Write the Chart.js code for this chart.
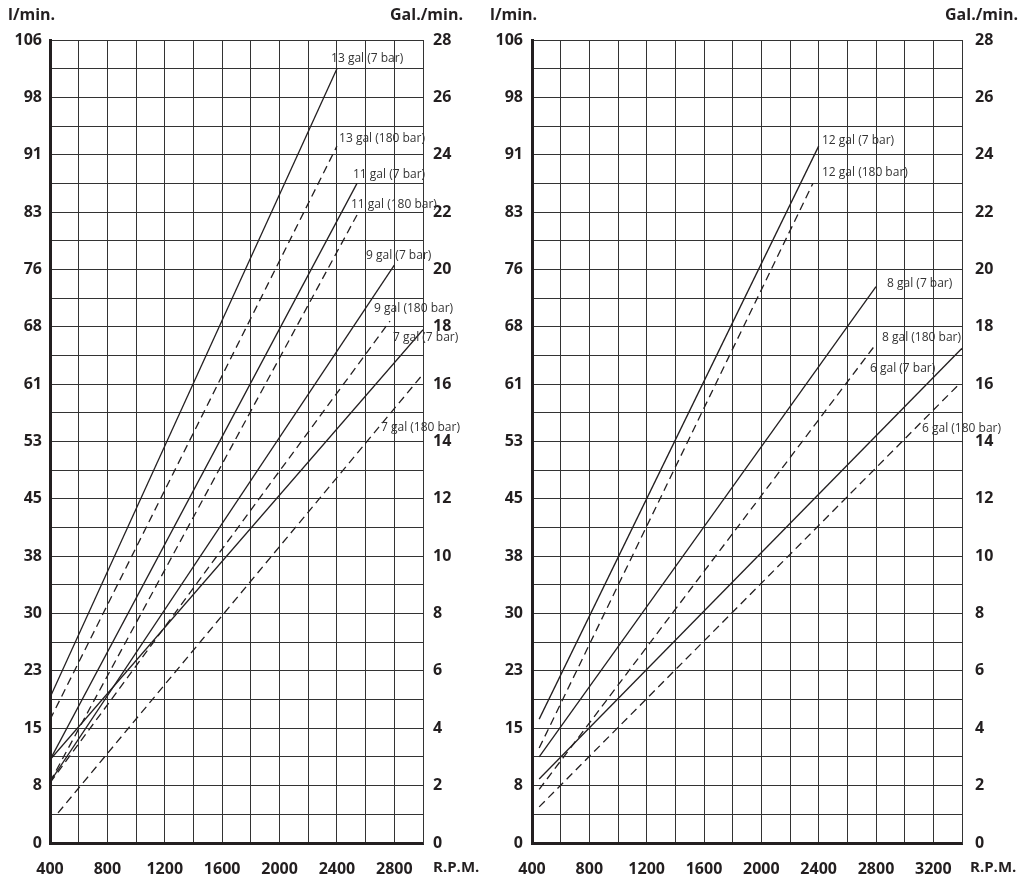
<!DOCTYPE html>
<html><head><meta charset="utf-8">
<script src="https://cdn.jsdelivr.net/npm/chart.js@4.4.1/dist/chart.umd.min.js"></script>
<style>
html,body{margin:0;padding:0;background:#fff;width:1024px;height:879px;overflow:hidden}
#wl{position:absolute;left:0;top:0;width:490px;height:879px}
#wr{position:absolute;left:480px;top:0;width:544px;height:879px}
</style></head><body>
<div id="wl"><canvas id="cl"></canvas></div>
<div id="wr"><canvas id="cr"></canvas></div>
<script>
// ---- tick labels ----
const LITRE_TICKS = ['0','8','15','23','30','38','45','53','61','68','76','83','91','98','106'];
const GAL_TICKS = ['0','2','4','6','8','10','12','14','16','18','20','22','24','26','28'];
const RPM_TICKS_LEFT = ['400','800','1200','1600','2000','2400','2800'];
const RPM_TICKS_RIGHT = ['400','800','1200','1600','2000','2400','2800','3200'];

// ---- left panel series (rpm -> Gal./min.) ----
const LEFT_NAMES = ['13 gal (7 bar)','13 gal (180 bar)','11 gal (7 bar)','11 gal (180 bar)','9 gal (7 bar)','9 gal (180 bar)','7 gal (7 bar)','7 gal (180 bar)'];
const LEFT_START_RPM = [400, 400, 400, 400, 400, 400, 400, 456];
const LEFT_START_GPM = [5.07, 4.3, 2.9, 2.13, 2.13, 2.1, 2.9, 1.05];
const LEFT_END_RPM = [2400, 2400, 2540, 2540, 2800, 2770, 3000, 3000];
const LEFT_END_GPM = [27.0, 24.3, 23.0, 21.9, 20.15, 18.2, 17.9, 16.35];
const LEFT_LABEL_AT = [[2359,27.34],[2415,24.55],[2512,23.3],[2498,22.25],[2603,20.47],[2659,18.62],[2791,17.64],[2707,14.47]];

// ---- right panel series ----
const RIGHT_NAMES = ['12 gal (7 bar)','12 gal (180 bar)','8 gal (7 bar)','8 gal (180 bar)','6 gal (7 bar)','6 gal (180 bar)'];
const RIGHT_START_RPM = [450, 450, 450, 450, 450, 450];
const RIGHT_START_GPM = [4.32, 3.31, 3.0, 1.87, 2.23, 1.26];
const RIGHT_END_RPM = [2400, 2360, 2800, 2800, 3400, 3380];
const RIGHT_END_GPM = [24.3, 23.0, 19.4, 17.4, 17.25, 16.0];
const RIGHT_LABEL_AT = [[2423,24.51],[2423,23.36],[2877,19.49],[2842,17.61],[2758,16.53],[3121,14.44]];

const INK = '#231f20';
const FONT = '"Open Sans", "Noto Sans", sans-serif';

const textPlugin = {
  id: 'texts',
  afterDraw(chart, args, o) {
    const ctx = chart.ctx, a = chart.chartArea;
    const xs = chart.scales.x, ys = chart.scales.y;
    ctx.save();
    ctx.fillStyle = INK;
    ctx.font = 'bold 16px ' + FONT;
    ctx.textBaseline = 'middle';
    ctx.textAlign = 'left'; ctx.fillText('l/min.', o.leftTitleX, 15);
    ctx.textAlign = 'right'; ctx.fillText('Gal./min.', o.rightTitleX, 15);
    ctx.font = 'bold 15px ' + FONT;
    ctx.textAlign = 'left'; ctx.fillText('R.P.M.', a.right + o.rpmDx, 868);
    ctx.font = '12px ' + FONT;
    ctx.fillStyle = '#333';
    o.names.forEach((n, i) => {
      ctx.fillText(n, xs.getPixelForValue(o.at[i][0]), ys.getPixelForValue(o.at[i][1]));
    });
    ctx.restore();
  }
};

function makeDatasets(names, sr, sg, er, eg) {
  return names.map((n, i) => ({
    label: n,
    data: [{x: sr[i], y: sg[i]}, {x: er[i], y: eg[i]}],
    borderColor: INK,
    borderWidth: 1.3,
    borderDash: n.indexOf('180') >= 0 ? [8, 5] : [],
    pointRadius: 0,
    tension: 0,
    fill: false
  }));
}

function makeChart(id, cfg) {
  const tickFont = {family: FONT, size: 16, weight: 'bold'};
  return new Chart(document.getElementById(id), {
    type: 'line',
    data: {datasets: makeDatasets(cfg.names, cfg.sr, cfg.sg, cfg.er, cfg.eg)},
    plugins: [textPlugin],
    options: {
      responsive: true, maintainAspectRatio: false, animation: false, devicePixelRatio: 1,
      layout: {padding: {top: 40, left: 0, right: 0, bottom: 0}},
      plugins: {legend: {display: false}, tooltip: {enabled: false},
        texts: {names: cfg.names, at: cfg.at, leftTitleX: cfg.leftTitleX, rightTitleX: cfg.rightTitleX, rpmDx: cfg.rpmDx}},
      scales: {
        x: {type: 'linear', position: 'bottom', min: 400, max: cfg.xmax,
          afterFit(s) { s.height = 36; },
          ticks: {stepSize: 200, autoSkip: false, maxRotation: 0, padding: 17, font: tickFont, color: INK,
            callback: (v) => { const k = (v - 400) / 400; return Number.isInteger(k) && k < cfg.xt.length ? cfg.xt[k] : ''; }},
          grid: {color: '#333', lineWidth: 1, drawTicks: false},
          border: {display: true, width: 3, color: INK}},
        y: {type: 'linear', position: 'left', min: 0, max: 28,
          afterFit(s) { s.width = cfg.lw; },
          ticks: {stepSize: 1, autoSkip: false, padding: cfg.lpad, font: tickFont, color: INK,
            callback: (v) => v % 2 === 0 ? LITRE_TICKS[v / 2] : ''},
          grid: {color: '#333', lineWidth: 1, drawTicks: false},
          border: {display: true, width: 3, color: INK}},
        y2: {type: 'linear', position: 'right', min: 0, max: 28,
          afterFit(s) { s.width = cfg.rw; },
          ticks: {stepSize: 1, autoSkip: false, padding: cfg.rpad, font: tickFont, color: INK,
            callback: (v) => v % 2 === 0 ? GAL_TICKS[v / 2] : ''},
          grid: {display: false, drawTicks: false},
          border: {display: true, width: 1, color: '#333'}}
      }
    }
  });
}

makeChart('cl', {names: LEFT_NAMES, sr: LEFT_START_RPM, sg: LEFT_START_GPM, er: LEFT_END_RPM, eg: LEFT_END_GPM,
  at: LEFT_LABEL_AT, xmax: 3000, xt: RPM_TICKS_LEFT, lw: 50, rw: 67, lpad: 8, rpad: 10,
  leftTitleX: 8, rightTitleX: 463, rpmDx: 10});
makeChart('cr', {names: RIGHT_NAMES, sr: RIGHT_START_RPM, sg: RIGHT_START_GPM, er: RIGHT_END_RPM, eg: RIGHT_END_GPM,
  at: RIGHT_LABEL_AT, xmax: 3400, xt: RPM_TICKS_RIGHT, lw: 52, rw: 62, lpad: 9, rpad: 13,
  leftTitleX: 10, rightTitleX: 538, rpmDx: 8});
</script>
</body></html>
